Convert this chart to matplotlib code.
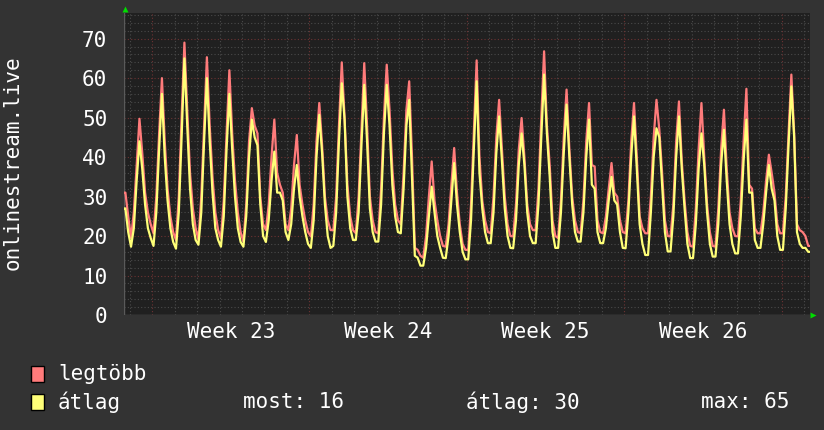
import numpy as np
import matplotlib
matplotlib.use('Agg')
import matplotlib.pyplot as plt
from matplotlib.patches import Rectangle

# 3-hour samples, starting Saturday 18:00; one row per day (00-03 ... 21-24)
max_vals = [
    31, 25,
    19.5, 26, 38, 49.7, 41, 31, 26, 23,
    20.7, 30, 46, 60, 44, 32, 25, 21,
    19, 30, 50, 69, 52, 36, 27, 22,
    19, 30, 48, 65.3, 48, 35, 26, 21.5,
    19.4, 29, 46, 62, 46, 34, 26, 21,
    18.6, 28, 44, 52.4, 48, 46, 30, 23,
    21.5, 28, 40, 49.5, 36, 33, 31, 23,
    21.5, 27, 38, 45.6, 33, 28, 24, 21,
    19.9, 28, 44, 53.7, 43, 30, 24, 21.5,
    21.5, 30, 48, 64, 50, 33, 25, 21.5,
    20.7, 30, 47, 63.8, 48, 30, 24, 21,
    20.7, 32, 50, 63.4, 52, 37, 28, 24,
    23, 36, 52, 59.2, 40, 17, 16.5, 15,
    14.5, 20, 30, 38.9, 29, 24, 20, 17.5,
    17.3, 23, 33, 42.3, 31, 23, 18, 16.5,
    16.5, 28, 46, 64.5, 40, 29, 24, 21,
    20.7, 30, 45, 54.5, 42, 30, 23, 20,
    19.9, 28, 42, 49.9, 40, 28, 23, 21.5,
    21.5, 32, 50, 66.8, 48, 38, 24, 20,
    19.5, 29, 45, 57.1, 42, 30, 24, 21,
    20.7, 29, 44, 53.7, 38, 37.6, 24, 21,
    20.7, 25, 32, 38.5, 31, 30, 24, 21,
    20.7, 29, 44, 53.7, 40, 25, 22, 20.7,
    20.7, 30, 45, 54.5, 47, 36, 24, 20,
    19.9, 28, 44, 54.1, 39, 29, 21, 17.5,
    17.3, 27, 42, 53.7, 40, 28, 21, 17.5,
    17.3, 27, 42, 52, 37, 26, 22, 20,
    19.9, 29, 44, 57.3, 33, 32, 22, 20.7,
    20.7, 26, 34, 40.6, 36, 31, 23, 20.7,
    20.7, 30, 46, 60.9, 46, 23, 21.5, 21,
    20, 17.5,
]

avg_vals = [
    27, 21,
    17.3, 22, 34, 44, 37, 28, 22, 19.5,
    17.5, 26, 42, 56, 40, 29, 22, 18.5,
    16.8, 26, 45, 65, 48, 32, 23, 19,
    17.8, 26, 44, 60, 44, 31, 22, 19,
    17.3, 25, 42, 56, 42, 30, 22, 18.5,
    17.3, 25, 40, 49.5, 45, 43, 28, 20,
    18.5, 24, 34, 41.4, 31, 31, 29, 21,
    19, 23, 32, 38, 30, 25, 21, 18,
    17, 24, 40, 50.7, 41, 28, 20, 17,
    17.5, 26, 44, 58.7, 49.5, 30, 22, 19,
    19, 26, 43, 58.3, 44, 27, 21, 18.6,
    18.6, 28, 46, 58.3, 48, 33, 25, 21,
    20.7, 32, 48, 54.5, 35, 15, 14.5, 12.5,
    12.5, 17, 25, 32.5, 26, 20, 17, 14.5,
    14.4, 20, 29, 38.5, 28, 21, 16, 14.1,
    14.1, 24, 42, 59.2, 36, 27, 21, 18.2,
    18.2, 26, 41, 50.3, 39, 27, 20, 17,
    16.9, 24, 38, 46, 38, 26, 20, 18.2,
    18.2, 28, 45, 60.9, 46, 35, 21, 17,
    17, 26, 41, 53.3, 40, 28, 21, 18.6,
    18.6, 26, 40, 49.5, 33, 32, 21, 18.2,
    18.2, 22, 29, 35, 29, 28, 21, 17,
    16.9, 26, 40, 50.3, 37, 23, 18, 15.2,
    15.2, 26, 40, 47.3, 45, 33, 21, 16.1,
    16.1, 25, 40, 50.3, 37, 27, 18, 14.4,
    14.4, 23, 37, 46, 38, 26, 18, 14.8,
    14.8, 23, 38, 46.9, 34, 23, 18, 15.6,
    15.6, 25, 39, 49.5, 31, 31, 19, 17,
    17, 23, 31, 38, 32, 29, 20, 16.5,
    16.5, 27, 43, 57.9, 45, 21, 18, 17,
    17, 16,
]

week_labels = ['Week 23', 'Week 24', 'Week 25', 'Week 26']
y_label = 'onlinestream.live'
legend_names = ['legtöbb', 'átlag']
stats = [('most', 16), ('átlag', 30), ('max', 65)]

RED = '#ff7b7b'
YELLOW = '#ffff78'
BG = '#333333'
PLOT_BG = '#202020'
TXT = '#ffffff'

plt.rcParams['font.family'] = ['DejaVu Sans Mono']

W, H = 824, 430
fig = plt.figure(figsize=(W / 100, H / 100), dpi=100, facecolor=BG)
x0, x1, y0, y1 = 124, 810, 315, 13
ax = fig.add_axes([x0 / W, 1 - y0 / H, (x1 - x0) / W, (y0 - y1) / H])
ax.set_facecolor(PLOT_BG)

step = 3
t_end = 732.4
# sample at the middle of each 3h block, hold the edge values to the borders
times = np.concatenate([[0], np.arange(len(max_vals)) * step + step / 2, [t_end]])
r = np.concatenate([[max_vals[0]], max_vals, [max_vals[-1]]])
y = np.concatenate([[avg_vals[0]], avg_vals, [avg_vals[-1]]])

ax.set_xlim(0, t_end)
ax.set_ylim(0, 76.5)

# grid: hours, first midnight after 6h, week starts on Monday (30h)
for v in np.arange(2, 77, 2):
    if v % 10 == 0:
        ax.axhline(v, color='#6e3333', lw=0.8, ls=(0, (1, 2)), zorder=1)
    else:
        ax.axhline(v, color='#4a4a4a', lw=0.8, ls=(0, (1, 2)), zorder=1)
for k in range(31):
    h = 6 + 24 * k
    if (h - 30) % 168 == 0:
        ax.axvline(h, color='#6e3333', lw=0.8, ls=(0, (1, 2)), zorder=1)
    else:
        ax.axvline(h, color='#4a4a4a', lw=0.8, ls=(0, (1, 2)), zorder=1)

ax.plot(times, r, color=RED, lw=1.6, zorder=3)
ax.plot(times, y, color=YELLOW, lw=1.6, zorder=4)

ax.set_yticks(range(0, 71, 10))
ax.set_yticklabels([str(v) for v in range(0, 71, 10)])
ax.set_xticks([30 + 168 * i + 84 for i in range(len(week_labels))])
ax.set_xticklabels(week_labels)
ax.tick_params(axis='y', length=0, pad=12, labelsize=15, labelcolor=TXT)
ax.tick_params(axis='x', length=0, pad=5, labelsize=15, labelcolor=TXT)
for s in ax.spines.values():
    s.set_visible(False)
ax.axhline(0, color='#5a5a5a', lw=1, zorder=2)
ax.axvline(0, color='#5a5a5a', lw=1, zorder=2)

# green arrows at axis ends
ax.plot([0.002], [1.012], marker='^', color='#00dd00', ms=5, mec='none',
        transform=ax.transAxes, clip_on=False)
ax.plot([1.005], [0.0], marker='>', color='#00dd00', ms=5, mec='none',
        transform=ax.transAxes, clip_on=False)

fig.text(13 / W, 1 - 163 / H, y_label, rotation=90, ha='center', va='center',
         fontsize=15, color=TXT)

# legend
for i, (name, col) in enumerate(zip(legend_names, [RED, YELLOW])):
    yc = 374 + 28 * i
    fig.patches.append(Rectangle((31 / W, 1 - (yc + 8) / H), 13 / W, 16 / H,
                                 facecolor=col, edgecolor='black', lw=1,
                                 transform=fig.transFigure, figure=fig))
    fig.text(58 / W, 1 - yc / H, name, ha='left', va='center', fontsize=15, color=TXT)

stat_x = [243, 466, 701]
for (lab, val), sx in zip(stats, stat_x):
    fig.text(sx / W, 1 - 402 / H, f'{lab}: {val}', ha='left', va='center',
             fontsize=15, color=TXT)

fig.savefig('out.png', dpi=100, facecolor=BG)
